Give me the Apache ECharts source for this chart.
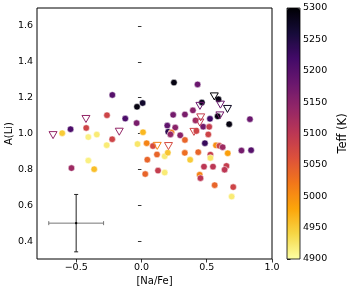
<!DOCTYPE html>
<html><head><meta charset="utf-8">
<script src="https://cdn.jsdelivr.net/npm/echarts@6/dist/echarts.min.js"></script>
<style>html,body{margin:0;padding:0;background:#fff}#c{width:349px;height:291px}</style>
</head><body><div id="c"></div>
<script>
// Detections (circles)
const naFe = [-0.223,-0.264,-0.124,-0.543,-0.423,-0.607,-0.407,-0.342,-0.224,-0.266,-0.407,-0.362,-0.536,
  0.249,0.430,0.009,-0.034,0.243,0.333,0.394,-0.037,0.012,0.198,0.259,0.205,0.230,0.222,0.297,0.333,0.421,
  0.463,0.590,0.414,0.525,0.584,0.831,0.672,0.473,0.519,0.512,0.486,0.571,0.597,0.622,0.766,0.840,
  -0.030,0.040,0.088,0.119,0.178,0.202,0.332,0.435,0.528,0.528,0.661,0.045,0.373,0.479,0.548,0.651,0.637,
  0.127,0.178,0.029,0.446,0.452,0.561,0.703,0.691];
const aLi = [1.215,1.102,1.083,1.024,1.031,1.002,0.980,0.994,0.968,0.935,0.849,0.801,0.807,
  1.284,1.274,1.170,1.149,1.104,1.106,1.129,1.058,1.007,1.044,1.033,1.010,1.005,0.995,0.990,0.964,1.014,
  1.173,1.191,1.073,1.082,1.096,1.080,1.052,1.038,1.037,0.995,0.946,0.934,0.931,0.924,0.905,0.907,
  0.941,0.946,0.930,0.883,0.873,0.893,0.892,0.896,0.882,0.864,0.890,0.854,0.853,0.815,0.815,0.819,0.798,
  0.793,0.782,0.774,0.770,0.751,0.712,0.701,0.648];
const teff = [5200,5080,5210,5210,5080,4950,4915,4920,5080,4920,4915,4960,5130,
  5290,5180,5270,5290,5170,5165,5150,5165,4965,5190,5150,5240,5020,5140,5150,5040,5080,
  5280,5290,5130,5220,5290,5180,5290,5170,5090,5080,5230,5000,5080,5130,5170,5200,
  4925,5010,5070,5040,4920,4955,5030,5040,5090,4925,4985,5040,4950,5100,5100,5090,5100,
  5090,4920,5040,5010,5100,5040,5080,4920];
// Upper limits (open down triangles)
const ulNaFe = [-0.425,-0.170,-0.677,0.121,0.207,0.448,0.558,0.605,0.659,0.454,0.601,0.447,0.402];
const ulALi  = [1.081,1.010,0.991,0.931,0.930,1.154,1.207,1.161,1.137,1.090,1.101,1.061,1.009];
const ulTeff = [5140,5140,5140,5010,5070,5180,5300,5180,5280,5090,5170,5100,5080];
// Typical error bar
const errNaFe = [-0.5];
const errALi = [0.5];
const errXSize = [0.21];
const errYSize = [0.16];
// Ticks
const xTicks = [-0.5, 0.0, 0.5, 1.0];
const yTicks = [0.4, 0.6, 0.8, 1.0, 1.2, 1.4, 1.6];
const teffMin = 4900, teffMax = 5300, teffStep = 50;

const inferno = ['#000004','#160b39','#420a68','#6a176e','#932667','#bc3754','#dd513a','#f37819','#fca50a','#f6d746','#fcffa4'];
const FONT = 'DejaVu Sans';
const fmt = v => (v < 0 ? '\u2212' : '') + Math.abs(v).toFixed(1);

const circleData = naFe.map((x, i) => [x, aLi[i], teff[i]]);
const ulData = ulNaFe.map((x, i) => [x, ulALi[i], ulTeff[i]]);
const errData = errNaFe.map((x, i) => [x, errALi[i], errXSize[i], errYSize[i]]);

const chart = echarts.init(document.getElementById('c'), null, {renderer: 'canvas'});
chart.setOption({
  animation: false,
  backgroundColor: '#fff',
  textStyle: {fontFamily: FONT},
  grid: [
    {left: 37, top: 8, width: 235, height: 251, show: true, borderColor: '#000', borderWidth: 1, backgroundColor: 'transparent', containLabel: false, outerBoundsMode: 'none'},
    {left: 287, top: 8, width: 13, height: 251, show: true, borderColor: '#000', borderWidth: 0.8, backgroundColor: 'transparent', z: 10, containLabel: false, outerBoundsMode: 'none'}
  ],
  xAxis: [
    {type: 'value', gridIndex: 0, min: -0.8, max: 1.0,
     name: '[Na/Fe]', nameLocation: 'middle', nameGap: 17, nameMoveOverlap: false,
     nameTextStyle: {fontFamily: FONT, fontSize: 10, color: '#000'},
     axisLine: {show: false}, splitLine: {show: false},
     axisTick: {show: true, inside: false, length: 3.5, customValues: xTicks, lineStyle: {color: '#000', width: 0.8}},
     axisLabel: {show: true, customValues: xTicks, formatter: fmt, fontFamily: FONT, fontSize: 9.5, color: '#000', margin: 4}},
    {type: 'value', gridIndex: 1, min: 0, max: 1, show: false}
  ],
  yAxis: [
    {type: 'value', gridIndex: 0, min: 0.3, max: 1.7,
     name: 'A(Li)', nameLocation: 'middle', nameGap: 23, nameMoveOverlap: false,
     nameTextStyle: {fontFamily: FONT, fontSize: 10, color: '#000'},
     axisLine: {show: false}, splitLine: {show: false},
     axisTick: {show: true, inside: false, length: 3.5, customValues: yTicks, lineStyle: {color: '#000', width: 0.8}},
     axisLabel: {show: true, customValues: yTicks, formatter: fmt, fontFamily: FONT, fontSize: 9.5, color: '#000', margin: 4}},
    {type: 'value', gridIndex: 1, min: teffMin, max: teffMax, interval: teffStep, position: 'right',
     name: 'Teff (K)', nameLocation: 'middle', nameGap: 37, nameMoveOverlap: false,
     nameTextStyle: {fontFamily: FONT, fontSize: 11.5, color: '#000'},
     axisLine: {show: false}, splitLine: {show: false},
     axisTick: {show: true, inside: false, length: 3.5, lineStyle: {color: '#000', width: 0.8}},
     axisLabel: {show: true, formatter: v => String(Math.round(v)), fontFamily: FONT, fontSize: 9.5, color: '#000', margin: 3}}
  ],
  visualMap: {
    type: 'continuous', min: teffMin, max: teffMax, dimension: 2, seriesIndex: [0, 1],
    show: true, calculable: false, hoverLink: false, orient: 'vertical',
    left: 287, top: 8, padding: 0, itemWidth: 13, itemHeight: 251, text: null,
    inRange: {color: inferno.slice().reverse()}
  },
  series: [
    {type: 'scatter', xAxisIndex: 0, yAxisIndex: 0, data: circleData, symbol: 'circle', symbolSize: 6.5,
     itemStyle: {borderColor: 'rgba(255,255,255,0.85)', borderWidth: 0.6, opacity: 1}, z: 3},
    {type: 'custom', xAxisIndex: 0, yAxisIndex: 0, data: ulData, encode: {x: 0, y: 1}, z: 4,
     renderItem: (params, api) => {
       const p = api.coord([api.value(0), api.value(1)]);
       const c = api.visual('color');
       return {type: 'polygon',
         shape: {points: [[p[0] - 4, p[1] - 3.5], [p[0] + 4, p[1] - 3.5], [p[0], p[1] + 3.5]]},
         style: {fill: 'none', stroke: c, lineWidth: 1}};
     }},
    {type: 'custom', xAxisIndex: 0, yAxisIndex: 0, data: errData, encode: {x: 0, y: 1}, z: 5,
     renderItem: (params, api) => {
       const x = api.value(0), y = api.value(1), ex = api.value(2), ey = api.value(3);
       const c = api.coord([x, y]);
       const l = api.coord([x - ex, y]), r = api.coord([x + ex, y]);
       const t = api.coord([x, y + ey]), b = api.coord([x, y - ey]);
       const gray = {stroke: '#777', lineWidth: 1};
       const dark = {stroke: '#222', lineWidth: 1};
       return {type: 'group', children: [
         {type: 'line', shape: {x1: l[0], y1: l[1], x2: r[0], y2: r[1]}, style: gray},
         {type: 'line', shape: {x1: l[0], y1: l[1] - 2, x2: l[0], y2: l[1] + 2}, style: gray},
         {type: 'line', shape: {x1: r[0], y1: r[1] - 2, x2: r[0], y2: r[1] + 2}, style: gray},
         {type: 'line', shape: {x1: t[0], y1: t[1], x2: b[0], y2: b[1]}, style: dark},
         {type: 'line', shape: {x1: t[0] - 2, y1: t[1], x2: t[0] + 2, y2: t[1]}, style: dark},
         {type: 'line', shape: {x1: b[0] - 2, y1: b[1], x2: b[0] + 2, y2: b[1]}, style: dark},
         {type: 'rect', shape: {x: c[0] - 1, y: c[1] - 1, width: 2, height: 2}, style: {fill: '#000'}}
       ]};
     }}
  ]
});
</script></body></html>
